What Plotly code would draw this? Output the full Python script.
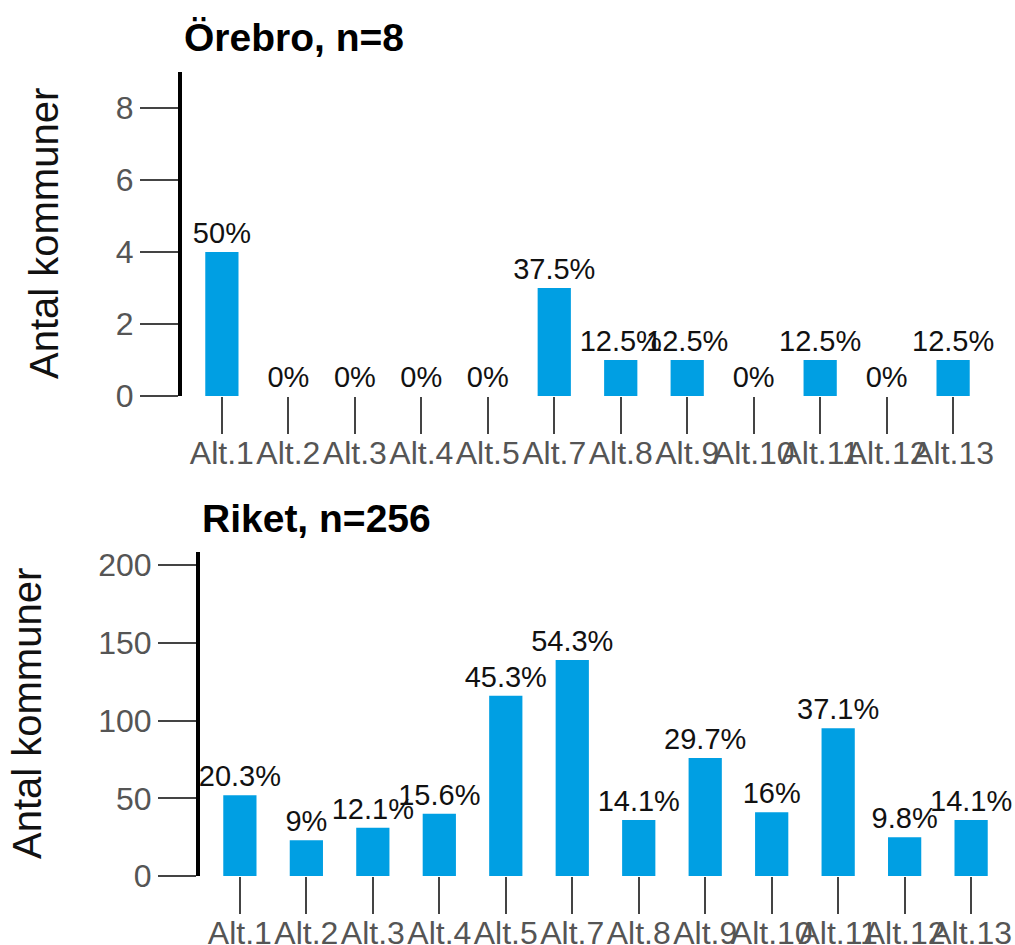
import plotly.graph_objects as go

categories = ["Alt.1", "Alt.2", "Alt.3", "Alt.4", "Alt.5", "Alt.7", "Alt.8",
              "Alt.9", "Alt.10", "Alt.11", "Alt.12", "Alt.13"]

orebro_counts = [4, 0, 0, 0, 0, 3, 1, 1, 0, 1, 0, 1]
orebro_labels = ["50%", "0%", "0%", "0%", "0%", "37.5%", "12.5%", "12.5%",
                 "0%", "12.5%", "0%", "12.5%"]

riket_counts = [52, 23, 31, 40, 116, 139, 36, 76, 41, 95, 25, 36]
riket_labels = ["20.3%", "9%", "12.1%", "15.6%", "45.3%", "54.3%", "14.1%",
                "29.7%", "16%", "37.1%", "9.8%", "14.1%"]

top_title = "Örebro, n=8"
bottom_title = "Riket, n=256"
y_title = "Antal kommuner"

W, H = 1015, 945
FONT = "Liberation Sans, Arial, sans-serif"
BAR = "#009fe3"
TICKC = "#444444"
LABC = "#555555"

def px(x):
    return x / W

def py(y):
    return 1 - y / H

fig = go.Figure()

fig.add_trace(go.Bar(
    x=categories, y=orebro_counts, text=orebro_labels,
    textposition="outside", constraintext="none", cliponaxis=False,
    textfont=dict(family=FONT, size=29, color="#111111"),
    marker=dict(color=BAR, line=dict(width=0)),
    xaxis="x", yaxis="y", showlegend=False,
))
fig.add_trace(go.Bar(
    x=categories, y=riket_counts, text=riket_labels,
    textposition="outside", constraintext="none", cliponaxis=False,
    textfont=dict(family=FONT, size=29, color="#111111"),
    marker=dict(color=BAR, line=dict(width=0)),
    xaxis="x2", yaxis="y2", showlegend=False,
))

xcommon = dict(
    type="category", range=[-0.6, 11.6], showline=False, showgrid=False,
    zeroline=False, ticks="outside", ticklen=37, tickwidth=2, tickcolor=TICKC,
    tickangle=0, tickfont=dict(family=FONT, size=32, color=LABC),
    ticklabelstandoff=-8,
    fixedrange=True, automargin=False,
)
ycommon = dict(
    showline=True, linewidth=4, linecolor="#000000", showgrid=False,
    zeroline=False, ticks="outside", ticklen=38, tickwidth=2, tickcolor=TICKC,
    tickfont=dict(family=FONT, size=32, color=LABC), fixedrange=True,
    automargin=False,
)

fig.update_layout(
    template="none",
    width=W, height=H, autosize=False,
    margin=dict(l=0, r=0, t=0, b=0),
    paper_bgcolor="white", plot_bgcolor="white",
    bargap=0.5,
    xaxis=dict(domain=[px(182), px(993)], anchor="y", **xcommon),
    yaxis=dict(domain=[py(396), py(72)], anchor="x", range=[0, 9],
               tickvals=[0, 2, 4, 6, 8], **ycommon),
    xaxis2=dict(domain=[px(200), px(1011)], anchor="y2", **xcommon),
    yaxis2=dict(domain=[py(876), py(552)], anchor="x2", range=[0, 208.5],
                tickvals=[0, 50, 100, 150, 200], **ycommon),
    annotations=[
        dict(text="<b>" + top_title + "</b>", xref="paper", yref="paper",
             x=px(182), y=py(37), xanchor="left", yanchor="middle",
             showarrow=False, font=dict(family=FONT, size=39, color="#000000")),
        dict(text="<b>" + bottom_title + "</b>", xref="paper", yref="paper",
             x=px(200), y=py(518), xanchor="left", yanchor="middle",
             showarrow=False, font=dict(family=FONT, size=39, color="#000000")),
        dict(text=y_title, xref="paper", yref="paper", textangle=-90,
             x=px(44), y=py(234), xanchor="center", yanchor="middle",
             showarrow=False, font=dict(family=FONT, size=40, color="#111111")),
        dict(text=y_title, xref="paper", yref="paper", textangle=-90,
             x=px(27), y=py(714), xanchor="center", yanchor="middle",
             showarrow=False, font=dict(family=FONT, size=40, color="#111111")),
    ],
)

fig.write_html(
    "out.html",
    config={"displayModeBar": False, "staticPlot": True},
    post_script="document.body.style.margin='0';document.body.style.overflow='hidden';",
)
